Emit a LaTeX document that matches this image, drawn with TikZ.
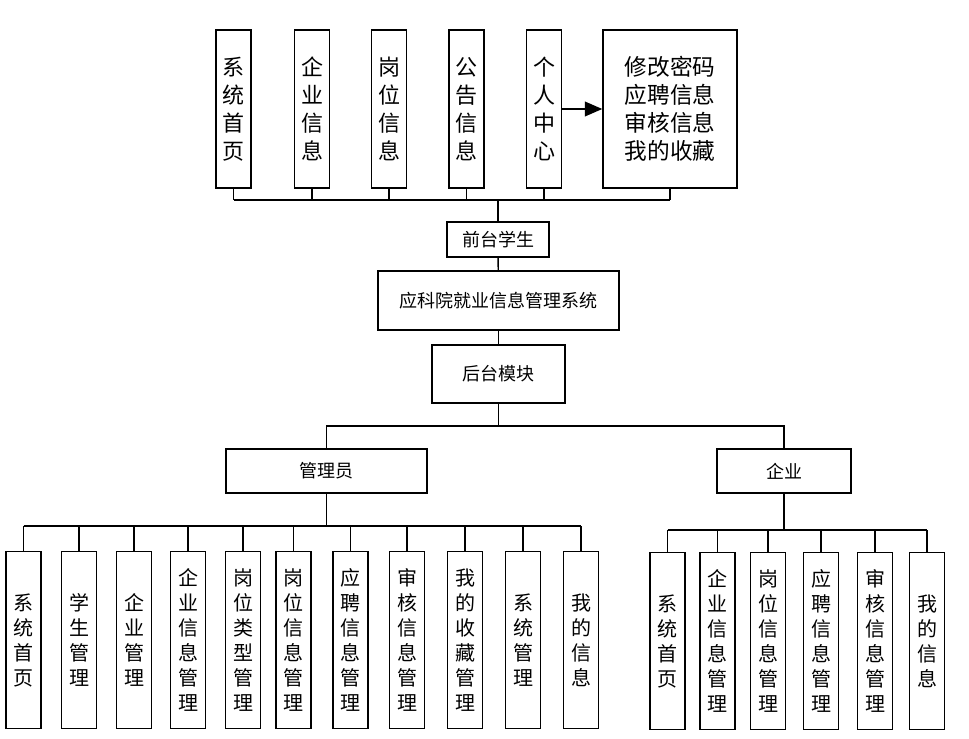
\documentclass[tikz,border=0pt]{standalone}
\usepackage{fontspec}
\setmainfont{Noto Sans CJK SC}
\usetikzlibrary{arrows.meta, positioning}

\begin{document}
\begin{tikzpicture}[
            x=0.75pt, y=-0.75pt,
            box/.style={rectangle, draw, line width=1.1pt, inner sep=0pt, align=center},
            topbox/.style={box, minimum width=26.25pt, minimum height=118.5pt, font=\fontsize{16.5}{21}\selectfont},
            midbox/.style={box, font=\fontsize{13.5}{16}\selectfont},
            lowbox/.style={box, minimum width=26.25pt, minimum height=132.75pt, font=\fontsize{15}{18.75}\selectfont},
            line/.style={line width=1.1pt},
            arrow/.style={line width=1.1pt, -{Triangle[length=13pt, width=11pt]}}
        ]
            \useasboundingbox (0,0) rectangle (969,738);

            % front end
            \node[topbox] (home) at (233.5,109) {系\\统\\首\\页};
            \node[topbox] (comp) at (312,109) {企\\业\\信\\息};
            \node[topbox] (job) at (389,109) {岗\\位\\信\\息};
            \node[topbox] (note) at (466.5,109) {公\\告\\信\\息};
            \node[topbox] (me) at (544,109) {个\\人\\中\\心};
            \node[topbox, minimum width=100.5pt, font=\fontsize{17}{21}\selectfont] (mine) at (670,109) {修改密码\\应聘信息\\审核信息\\我的收藏};

            \node[midbox, minimum width=76.5pt, minimum height=26.25pt] (front) at (498,239.5) {前台学生};
            \node[midbox, minimum width=180.75pt, minimum height=44.25pt] (sys) at (498.5,300.5) {应科院就业信息管理系统};
            \node[midbox, minimum width=99.75pt, minimum height=43.5pt] (back) at (498.5,374) {后台模块};
            \node[midbox, minimum width=150.75pt, minimum height=33pt] (admin) at (326.5,471) {管理员};
            \node[midbox, minimum width=100.5pt, minimum height=33pt] (ent) at (784,471) {企业};

            % admin modules
            \foreach \x/\t [count=\i] in {23.5/系\\统\\首\\页, 79/学\\生\\管\\理, 134/企\\业\\管\\理,
                    188/企\\业\\信\\息\\管\\理, 243/岗\\位\\类\\型\\管\\理, 293.5/岗\\位\\信\\息\\管\\理,
                    350.5/应\\聘\\信\\息\\管\\理, 407/审\\核\\信\\息\\管\\理, 465/我\\的\\收\\藏\\管\\理,
                    523/系\\统\\管\\理, 581/我\\的\\信\\息}
                \node[lowbox] (a\i) at (\x,640) {\t};

            % enterprise modules
            \foreach \x/\t [count=\i] in {667.5/系\\统\\首\\页, 717.5/企\\业\\信\\息\\管\\理, 768/岗\\位\\信\\息\\管\\理,
                    821/应\\聘\\信\\息\\管\\理, 875/审\\核\\信\\息\\管\\理, 927/我\\的\\信\\息}
                \node[lowbox] (e\i) at (\x,641) {\t};

            \coordinate (topbus) at (498,200);
            \coordinate (midbus) at (498.5,426);
            \coordinate (abus) at (326.5,526);
            \coordinate (ebus) at (784,530);

            \foreach \n in {home, comp, job, note, me, mine}
                \draw[line] (\n.south) -- (\n.south |- topbus);
            \draw[line] (home.south |- topbus) -- (mine.south |- topbus);
            \draw[line] (topbus) -- (front.north);
            \draw[arrow] (me.east) -- (mine.west);

            \draw[line] (front) -- (sys);
            \draw[line] (sys) -- (back);
            \draw[line] (back) -- (midbus);
            \draw[line] (admin.north) |- (midbus) -| (ent.north);

            \draw[line] (admin) -- (abus);
            \foreach \i in {1,...,11}
                \draw[line] (a\i.north) -- (a\i.north |- abus);
            \draw[line] (a1.north |- abus) -- (a11.north |- abus);

            \draw[line] (ent) -- (ebus);
            \foreach \i in {1,...,6}
                \draw[line] (e\i.north) -- (e\i.north |- ebus);
            \draw[line] (e1.north |- ebus) -- (e6.north |- ebus);
        \end{tikzpicture}
\end{document}
